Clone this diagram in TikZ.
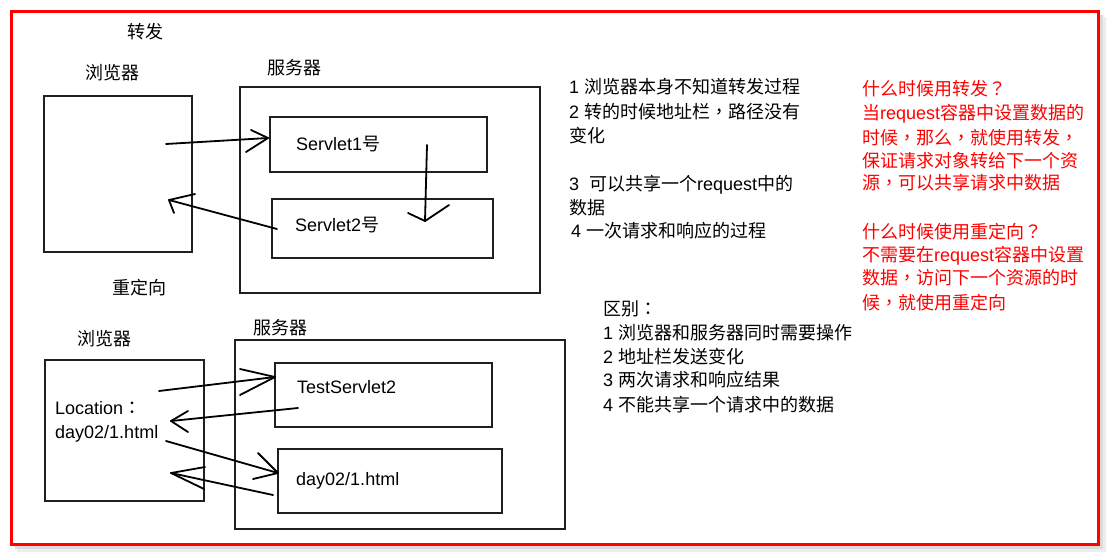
\documentclass[tikz,border=0pt]{standalone}
\usepackage{fontspec}
\setmainfont{Noto Sans CJK SC}
\newfontfamily\lat{Liberation Sans}
\newfontfamily\tcp{Noto Sans CJK TC}
\newcommand\ltn[1]{{\lat #1}}
\newcommand\pu[1]{{\tcp #1}}
\begin{document}
\begin{tikzpicture}[x=1pt,y=-1pt,
  font=\fontsize{18}{24}\selectfont,
  box/.style={draw=black!88, line width=2pt, minimum width=#1},
  txt/.style={inner sep=0pt, text height=15.8pt, text depth=2.2pt},
  lbl/.style={txt, anchor=center},
  lt/.style={txt, anchor=west},
  rd/.style={txt, anchor=west, text=red},
  arr/.style={draw=black, line width=1.8pt, line cap=round, line join=round}]
\useasboundingbox (0,0) rectangle (1112,557);
% frame with soft shadow
\draw[black!7, line width=4pt] (1104,17) -- (1104,550) -- (17,550);
\draw[black!14, line width=3pt] (1101,15) -- (1101,547) -- (15,547);
\draw[red, line width=3pt] (11,11) rectangle (1098,544);

% ---------- forward ----------
\node[lbl] (t1) at (145,32) {转发};
\node[lbl] (t2) at (112,73) {浏览器};
\node[lbl] (t3) at (294,68) {服务器};
\node[box=148pt, minimum height=156pt] (b1) at (118,174) {};
\node[box=300pt, minimum height=206pt] (s1) at (390,190) {};
\node[box=217pt, minimum height=55pt] (sv1) at (378.5,144.5) {};
\node[box=221pt, minimum height=59pt] (sv2) at (382.5,228.5) {};
\node[lt] (t4) at (296,144) {\ltn{Servlet1}号};
\node[lt] (t5) at (295,225) {\ltn{Servlet2}号};

\coordinate (a1s) at (166,144); \coordinate (a1e) at (268,138);
\coordinate (a1h1) at (251,130); \coordinate (a1h2) at (246,152);
\draw[arr] (a1s) -- (a1e);
\draw[arr] (a1h1) -- (a1e) -- (a1h2);

\coordinate (a2s) at (427,145); \coordinate (a2e) at (425,221);
\coordinate (a2h1) at (408,213); \coordinate (a2h2) at (449,205);
\draw[arr] (a2s) -- (a2e);
\draw[arr] (a2h1) -- (a2e) -- (a2h2);

\coordinate (a3s) at (277,229); \coordinate (a3e) at (169,200);
\coordinate (a3h1) at (195,194); \coordinate (a3h2) at (174,213);
\draw[arr] (a3s) -- (a3e);
\draw[arr] (a3h1) -- (a3e) -- (a3h2);

% ---------- redirect ----------
\node[lbl] (t6) at (139,288) {重定向};
\node[lbl] (t7) at (104,339) {浏览器};
\node[lbl] (t8) at (280,328) {服务器};
\node[box=159pt, minimum height=141pt] (b2) at (124.5,430.5) {};
\node[box=330pt, minimum height=189pt] (s2) at (400,434.5) {};
\node[box=217pt, minimum height=64pt] (ts) at (383.5,395) {};
\node[box=224pt, minimum height=64pt] (dh) at (390,481) {};
\node[lt] (t9) at (297,387) {\ltn{TestServlet2}};
\node[lt] (t10) at (55,408) {\ltn{Location}\pu{：}};
\node[lt] (t11) at (55,432) {\ltn{day02/1.html}};
\node[lt] (t12) at (296,479) {\ltn{day02/1.html}};

\coordinate (r1s) at (159,391); \coordinate (r1e) at (275,377);
\coordinate (r1h1) at (240,369); \coordinate (r1h2) at (240,395);
\draw[arr] (r1s) -- (r1e);
\draw[arr] (r1h1) -- (r1e) -- (r1h2);

\coordinate (r2s) at (298,408); \coordinate (r2e) at (171,421);
\coordinate (r2h1) at (188,411); \coordinate (r2h2) at (188,432);
\draw[arr] (r2s) -- (r2e);
\draw[arr] (r2h1) -- (r2e) -- (r2h2);

\coordinate (r3s) at (166,441); \coordinate (r3e) at (278,473);
\coordinate (r3h1) at (258,453); \coordinate (r3h2) at (253,479);
\draw[arr] (r3s) -- (r3e);
\draw[arr] (r3h1) -- (r3e) -- (r3h2);

\coordinate (r4s) at (273,495); \coordinate (r4e) at (171,473);
\coordinate (r4h1) at (205,467); \coordinate (r4h2) at (204,489);
\draw[arr] (r4s) -- (r4e);
\draw[arr] (r4h1) -- (r4e) -- (r4h2);

% ---------- notes (black) ----------
\node[lt] (n1) at (569,87) {\ltn{1 }浏览器本身不知道转发过程};
\node[lt] (n2) at (569,112) {\ltn{2 }转的时候地址栏\pu{，}路径没有};
\node[lt] (n3) at (569,136) {变化};
\node[lt] (n4) at (569,184) {\ltn{3~~}可以共享一个\ltn{request}中的};
\node[lt] (n5) at (569,208) {数据};
\node[lt] (n6) at (571,231) {\ltn{4 }一次请求和响应的过程};

\node[lt] (d1) at (603,309) {区别\pu{：}};
\node[lt] (d2) at (603,333) {\ltn{1 }浏览器和服务器同时需要操作};
\node[lt] (d3) at (603,357) {\ltn{2 }地址栏发送变化};
\node[lt] (d4) at (603,380) {\ltn{3 }两次请求和响应结果};
\node[lt] (d5) at (603,405) {\ltn{4 }不能共享一个请求中的数据};

% ---------- notes (red) ----------
\node[rd] (q1) at (862,89) {什么时候用转发\pu{？}};
\node[rd] (q2) at (862,113) {当\ltn{request}容器中设置数据的};
\node[rd] (q3) at (862,138) {时候\pu{，}那么\pu{，}就使用转发\pu{，}};
\node[rd] (q4) at (862,161) {保证请求对象转给下一个资};
\node[rd] (q5) at (862,183) {源\pu{，}可以共享请求中数据};
\node[rd] (q6) at (862,232) {什么时候使用重定向\pu{？}};
\node[rd] (q7) at (862,255) {不需要在\ltn{request}容器中设置};
\node[rd] (q8) at (862,278) {数据\pu{，}访问下一个资源的时};
\node[rd] (q9) at (862,303) {候\pu{，}就使用重定向};
\end{tikzpicture}
\end{document}
